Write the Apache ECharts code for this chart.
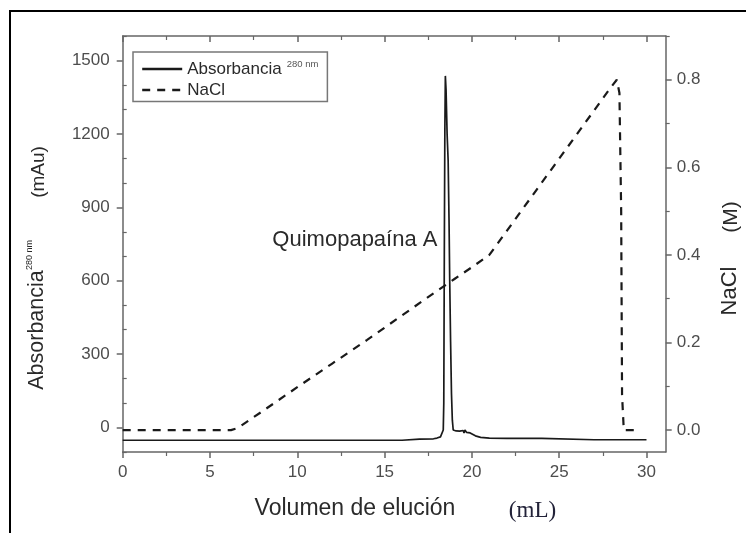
<!DOCTYPE html>
<html>
<head>
<meta charset="utf-8">
<script src="https://cdn.jsdelivr.net/npm/echarts@6/dist/echarts.min.js"></script>
<style>
html,body{margin:0;padding:0;background:#fff;}
#chart{width:746px;height:533px;}
</style>
</head>
<body>
<div id="chart"></div>
<script>
// ---- data ----
const xTicks = [0, 5, 10, 15, 20, 25, 30];
const xMinorTicks = [2.5, 7.5, 12.5, 17.5, 22.5, 27.5];
const absTicks = [0, 300, 600, 900, 1200, 1500];
const absMinorTicks = [-100, 100, 200, 400, 500, 700, 800, 1000, 1100, 1300, 1400, 1600];
const naclTicks = [0, 0.2, 0.4, 0.6, 0.8];
const naclMinorTicks = [0.1, 0.3, 0.5, 0.7, 0.9];

const absVolume = [0, 4, 8, 12, 16, 16.1, 17, 17.8, 18.0, 18.2, 18.3, 18.36, 18.39, 18.42, 18.45, 18.48, 18.52, 18.58, 18.64, 18.69, 18.73, 18.78, 18.83, 18.88, 18.93, 19.0, 19.1, 19.2, 19.3, 19.4, 19.5, 19.55, 19.6, 19.7, 19.8, 19.9, 20.0, 20.2, 20.5, 21.0, 22, 24.0, 24.1, 27, 30];
const absValue  = [-52, -52, -52, -52, -52, -47, -47, -46, -43, -38, -33, -10, 100, 700, 1200, 1437, 1380, 1200, 1090, 850, 600, 350, 140, 30, -10, -18, -14, -20, -15, -20, -12, -22, -10, -20, -14, -22, -26, -34, -40, -43, -44, -44, -50, -50, -50];

const naclVolume = [0, 6.2, 6.6, 7.0, 8, 10, 12, 14, 16, 18, 19, 20, 21, 22, 24, 26, 28, 28.3, 28.45, 28.55, 28.6, 28.7, 29.6];
const naclValue  = [0, 0, 0.005, 0.016, 0.043, 0.098, 0.152, 0.206, 0.262, 0.318, 0.345, 0.372, 0.4, 0.455, 0.565, 0.675, 0.785, 0.8, 0.77, 0.5, 0.08, 0.0, 0.0];

const annotationText = 'Quimopapaína A';
const annotationPoint = [13.3, 767];

// ---- chart ----
const FONT = "'Liberation Sans', Arial, sans-serif";
const AXIS_COLOR = '#666';
const LABEL_COLOR = '#4d4d4d';
const TITLE_COLOR = '#2a2a2a';

const zip = (a, b) => a.map((v, i) => [v, b[i]]);

const chart = echarts.init(document.getElementById('chart'), null, {renderer: 'canvas'});

const baseAxisLine = {show: true, onZero: false, lineStyle: {color: AXIS_COLOR, width: 1.5}};
const noLine = {show: false, onZero: false};
const plain = v => String(v);

const option = {
  animation: false,
  backgroundColor: '#fff',
  grid: {left: 122.7, right: 80.3, top: 36, bottom: 81, containLabel: false},
  legend: {
    left: 133, top: 52, orient: 'vertical',
    backgroundColor: '#fff', borderColor: '#777', borderWidth: 1.5,
    padding: [7, 9, 3, 8],
    itemWidth: 40, itemHeight: 14, itemGap: 4,
    itemStyle: {opacity: 0},
    lineStyle: {width: 2.4},
    textStyle: {fontSize: 17, color: TITLE_COLOR, fontFamily: FONT,
      rich: {s: {fontSize: 9.5, color: '#555', verticalAlign: 'top', padding: [0, 0, 10, 5], fontFamily: FONT}}},
    formatter: n => n === 'Absorbancia' ? n + '{s|280 nm}' : n,
    data: ['Absorbancia', 'NaCl']
  },
  xAxis: [
    {type: 'value', position: 'bottom', min: 0, max: 31.1,
      axisLine: baseAxisLine, splitLine: {show: false},
      axisTick: {show: true, length: 6, lineStyle: {color: AXIS_COLOR, width: 1.5}, customValues: xTicks},
      axisLabel: {show: true, customValues: xTicks, formatter: plain, margin: 12, fontSize: 17, color: LABEL_COLOR, fontFamily: FONT}},
    {type: 'value', position: 'bottom', min: 0, max: 31.1,
      axisLine: noLine, splitLine: {show: false},
      axisTick: {show: true, length: 4, lineStyle: {color: AXIS_COLOR, width: 1.2}, customValues: xMinorTicks},
      axisLabel: {show: false}},
    {type: 'value', position: 'top', min: 0, max: 31.1,
      axisLine: baseAxisLine, splitLine: {show: false},
      axisTick: {show: true, inside: true, length: 6, lineStyle: {color: AXIS_COLOR, width: 1.5}, customValues: xTicks},
      axisLabel: {show: false}},
    {type: 'value', position: 'top', min: 0, max: 31.1,
      axisLine: noLine, splitLine: {show: false},
      axisTick: {show: true, inside: true, length: 4, lineStyle: {color: AXIS_COLOR, width: 1.2}, customValues: xMinorTicks},
      axisLabel: {show: false}}
  ],
  yAxis: [
    {type: 'value', position: 'left', min: -100, max: 1600,
      axisLine: baseAxisLine, splitLine: {show: false},
      axisTick: {show: true, length: 6, lineStyle: {color: AXIS_COLOR, width: 1.5}, customValues: absTicks},
      axisLabel: {show: true, customValues: absTicks, formatter: plain, margin: 13, fontSize: 17, color: LABEL_COLOR, fontFamily: FONT}},
    {type: 'value', position: 'left', min: -100, max: 1600,
      axisLine: noLine, splitLine: {show: false},
      axisTick: {show: true, inside: true, length: 4, lineStyle: {color: AXIS_COLOR, width: 1.2}, customValues: absMinorTicks},
      axisLabel: {show: false}},
    {type: 'value', position: 'right', min: -0.05, max: 0.9,
      axisLine: baseAxisLine, splitLine: {show: false},
      axisTick: {show: true, length: 6, lineStyle: {color: AXIS_COLOR, width: 1.5}, customValues: naclTicks},
      axisLabel: {show: true, customValues: naclTicks, margin: 11, fontSize: 17, color: LABEL_COLOR, fontFamily: FONT,
        formatter: v => Number(v).toFixed(1)}},
    {type: 'value', position: 'right', min: -0.05, max: 0.9,
      axisLine: noLine, splitLine: {show: false},
      axisTick: {show: true, length: 4, lineStyle: {color: AXIS_COLOR, width: 1.2}, customValues: naclMinorTicks},
      axisLabel: {show: false}}
  ],
  series: [
    {name: 'Absorbancia', type: 'line', xAxisIndex: 0, yAxisIndex: 0,
      data: zip(absVolume, absValue), symbol: 'none',
      lineStyle: {color: '#1a1a1a', width: 1.7}, itemStyle: {color: '#1a1a1a'},
      markPoint: {
        symbol: 'circle', symbolSize: 1, itemStyle: {color: 'rgba(0,0,0,0)'},
        label: {show: true, position: 'inside', formatter: annotationText, fontSize: 22, color: TITLE_COLOR, fontFamily: FONT},
        data: [{coord: annotationPoint}]
      }},
    {name: 'NaCl', type: 'line', xAxisIndex: 0, yAxisIndex: 2,
      data: zip(naclVolume, naclValue), symbol: 'none',
      lineStyle: {color: '#1a1a1a', width: 2.2, type: [8, 7]}, itemStyle: {color: '#1a1a1a'}}
  ],
  graphic: [
    {type: 'rect', shape: {x: 10, y: 11, width: 800, height: 600}, style: {fill: 'none', stroke: '#000', lineWidth: 2}, silent: true},
    {type: 'text', x: 355, y: 509, style: {text: 'Volumen de elución', font: "23px " + FONT, fill: TITLE_COLOR, align: 'center', verticalAlign: 'middle'}},
    {type: 'text', x: 532.5, y: 511, style: {text: '(mL)', font: "23px 'Liberation Serif', 'Times New Roman', serif", fill: '#222238', align: 'center', verticalAlign: 'middle'}},
    {type: 'text', x: 37, y: 330, rotation: Math.PI / 2, style: {text: 'Absorbancia', font: "21.5px " + FONT, fill: TITLE_COLOR, align: 'center', verticalAlign: 'middle'}},
    {type: 'text', x: 30, y: 255, rotation: Math.PI / 2, style: {text: '280 nm', font: "9px " + FONT, fill: TITLE_COLOR, align: 'center', verticalAlign: 'middle'}},
    {type: 'text', x: 39, y: 172, rotation: Math.PI / 2, style: {text: '(mAu)', font: "19px " + FONT, fill: TITLE_COLOR, align: 'center', verticalAlign: 'middle'}},
    {type: 'text', x: 730, y: 291, rotation: Math.PI / 2, style: {text: 'NaCl', font: "22px " + FONT, fill: TITLE_COLOR, align: 'center', verticalAlign: 'middle'}},
    {type: 'text', x: 731, y: 217, rotation: Math.PI / 2, style: {text: '(M)', font: "21px " + FONT, fill: TITLE_COLOR, align: 'center', verticalAlign: 'middle'}}
  ]
};
chart.setOption(option);
</script>
</body>
</html>
